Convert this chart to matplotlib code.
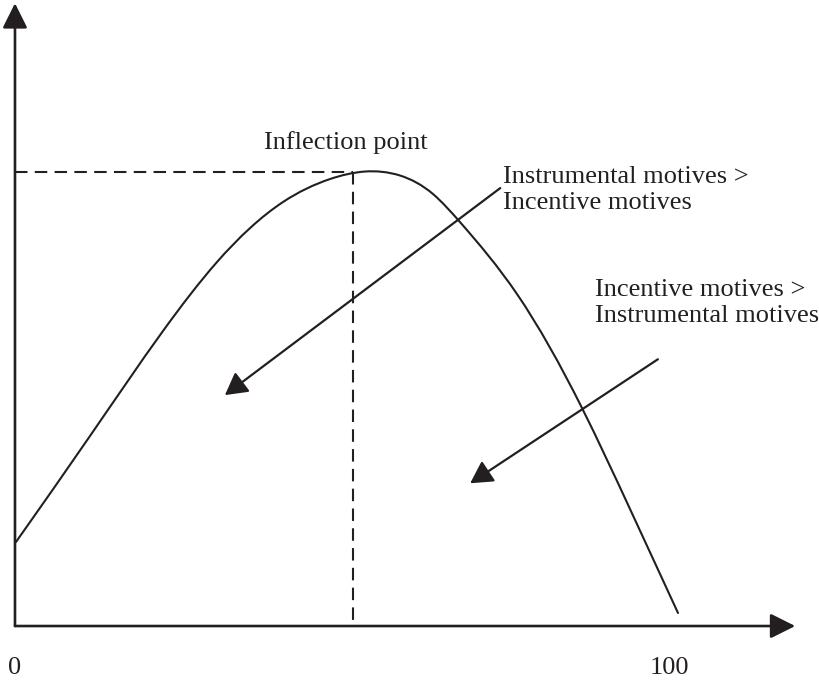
import matplotlib
matplotlib.use("Agg")
import numpy as np
from matplotlib import pyplot as plt
from matplotlib.path import Path
from matplotlib.patches import PathPatch

# curve (x: 0-100 scale, y: arbitrary units, peak ~ 80)
curve_x = [0.15, 11.47, 22.63, 30.89, 40.98, 48.17, 53.52, 58.87, 63.91,
           68.04, 76.76, 86.70, 94.04, 101.38]
curve_y = [14.77, 33.41, 51.87, 64.00, 74.55, 78.59, 79.91, 79.21, 75.96,
           71.03, 58.37, 38.33, 20.57, 2.29]

peak_x = 51.7
peak_y = 79.9
x_ticks = [0, 100]
x_tick_labels = ["0", "100"]

label_peak = "Inflection point"
label_left = "Instrumental motives >\nIncentive motives"
label_right = "Incentive motives >\nInstrumental motives"

ink = "#231f20"
font = ["Liberation Serif", "DejaVu Serif"]

fig = plt.figure(figsize=(8.2, 6.85), dpi=100)
ax = fig.add_axes([0, 0, 1, 1])
ax.set_xlim(-2.29, 123.09)
ax.set_ylim(-10.37, 110.07)
ax.axis("off")

# axes with arrowheads
axis_arrow = dict(arrowstyle="-|>,head_length=0.4,head_width=0.2",
                  mutation_scale=38, color=ink, lw=1.9,
                  shrinkA=0, shrinkB=0)
ax.annotate("", xy=(0, 109.5), xytext=(0, 0), arrowprops=axis_arrow)
ax.annotate("", xy=(119.3, 0), xytext=(0, 0), arrowprops=axis_arrow)

# dashed guides to the peak
ax.plot([0, peak_x], [peak_y, peak_y], color=ink, lw=1.5, dashes=(6, 3.5))
ax.plot([peak_x, peak_x], [peak_y, 0], color=ink, lw=1.5, dashes=(6, 3.5))

# the curve: bezier path through the read points, slopes from a natural
# cubic spline so the drawn line has no corners
xs = np.array(curve_x)
ys = np.array(curve_y)
n = len(xs)
h = np.diff(xs)
A = np.zeros((n, n))
b = np.zeros(n)
A[0, 0] = A[-1, -1] = 1
for i in range(1, n - 1):
    A[i, i - 1] = h[i - 1]
    A[i, i] = 2 * (h[i - 1] + h[i])
    A[i, i + 1] = h[i]
    b[i] = 6 * ((ys[i + 1] - ys[i]) / h[i] - (ys[i] - ys[i - 1]) / h[i - 1])
M = np.linalg.solve(A, b)
m = np.zeros(n)
for i in range(n - 1):
    m[i] = (ys[i + 1] - ys[i]) / h[i] - h[i] * (2 * M[i] + M[i + 1]) / 6
m[-1] = (ys[-1] - ys[-2]) / h[-1] + h[-1] * (M[-2] + 2 * M[-1]) / 6

verts = [(xs[0], ys[0])]
codes = [Path.MOVETO]
for i in range(n - 1):
    verts += [(xs[i] + h[i] / 3, ys[i] + m[i] * h[i] / 3),
              (xs[i + 1] - h[i] / 3, ys[i + 1] - m[i + 1] * h[i] / 3),
              (xs[i + 1], ys[i + 1])]
    codes += [Path.CURVE4] * 3
ax.add_patch(PathPatch(Path(verts, codes), fill=False, edgecolor=ink,
                       lw=1.5, capstyle="round"))

# pointer arrows
ptr = dict(arrowstyle="-|>,head_length=0.45,head_width=0.25",
           mutation_scale=30, color=ink, lw=1.6,
           shrinkA=0, shrinkB=0)
ax.annotate("", xy=(32.1, 40.6), xytext=(74.2, 77.0), arrowprops=ptr)
ax.annotate("", xy=(69.6, 25.1), xytext=(98.3, 46.9), arrowprops=ptr)

# texts
ax.text(50.6, 85.1, label_peak, ha="center", va="center",
        fontsize=19, family=font, color=ink)
ax.text(74.6, 76.6, label_left, ha="left", va="center",
        fontsize=19, family=font, color=ink, linespacing=1.25)
ax.text(88.7, 56.8, label_right, ha="left", va="center",
        fontsize=19, family=font, color=ink, linespacing=1.25)

for xt, lab in zip(x_ticks, x_tick_labels):
    ax.text(xt, -7.4, lab, ha="center", va="center",
            fontsize=19, family=font, color=ink)

fig.savefig("out.png", dpi=100)
